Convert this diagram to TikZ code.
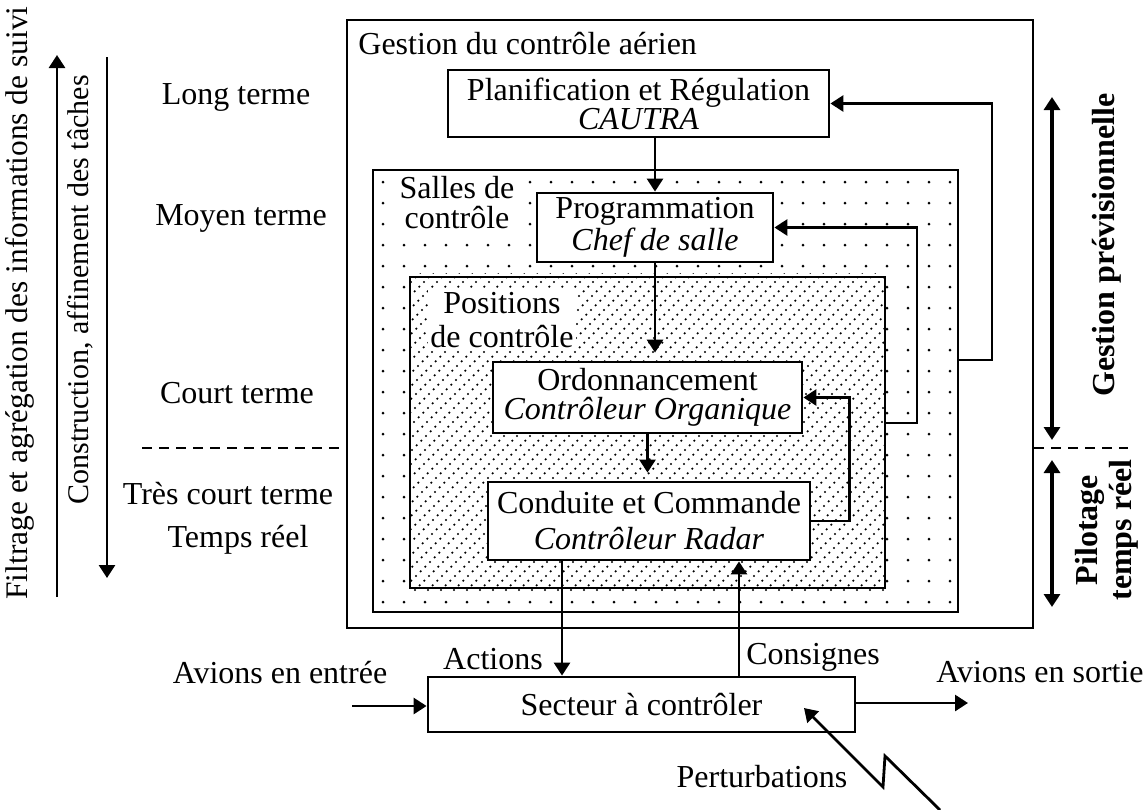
\documentclass[tikz,border=0pt]{standalone}
\usepackage{fontspec}
\setmainfont{Liberation Serif}
\usetikzlibrary{arrows.meta, positioning, fit}
\tikzset{
  box/.style={draw, line width=1.4pt, fill=white, align=center, inner sep=1pt,
    font=\fontsize{16}{14.5}\selectfont},
  region/.style={draw, line width=1.4pt, inner sep=0pt},
  arrow/.style={-{Triangle[length=6.5pt,width=8pt]}, line width=1.4pt},
  darrow/.style={{Triangle[length=6.5pt,width=8pt]}-{Triangle[length=6.5pt,width=8pt]}, line width=1.6pt},
  sep/.style={line width=1.2pt, dash pattern=on 5pt off 3.5pt},
  lbl/.style={font=\fontsize{16}{18}\selectfont, inner sep=1pt},
  tag/.style={lbl, fill=white, align=center},
  gridrow/.style={line width=1.5pt, line cap=round, dash pattern=on 0pt off 10.5pt},
  hatchrow/.style={line width=1.2pt, line cap=round, dash pattern=on 0pt off 3.3pt},
}
\begin{document}
\begin{tikzpicture}[x=0.5pt, y=-0.5pt]
  \useasboundingbox (0,0) rectangle (1148,810);

  % Nested zones
  \node[region, line width=1pt, fit={(347,20) (1033,628)}] (gestion) {};
  \node[region, fit={(373,170) (958,612)}] (salles) {};
  \begin{scope}
    \clip (salles.north west) rectangle (salles.south east);
    \foreach \y in {182,203,...,612}
      \draw[gridrow] (383,\y) -- (958,\y);
  \end{scope}
  \node[region, fill=white, fit={(410,277) (885,588)}] (positions) {};
  \begin{scope}
    \clip ([shift={(2,-2)}]positions.north west) rectangle ([shift={(-2,2)}]positions.south east);
    \foreach \k in {0,...,62}
      \draw[hatchrow] ({90+13*\k},590) -- ++(322,-322);
  \end{scope}

  % Zone titles
  \node[lbl, anchor=west] (tgestion) at (356,44) {Gestion du contrôle aérien};
  \node[tag, font=\fontsize{16}{15}\selectfont] (tsalles) at (457,203) {Salles de\\contrôle};
  \node[tag, font=\fontsize{16}{17}\selectfont] (tpositions) at (502,320) {Positions\\de contrôle};

  % Decision levels
  \node[box, minimum width=190.5pt, minimum height=33.5pt] (plan) at (638.5,103.5)
    {Planification et Régulation\\\textit{CAUTRA}};
  \node[box, minimum width=118pt, minimum height=34.5pt] (prog) at (655,227.5)
    {Programmation\\\textit{Chef de salle}};
  \node[box, minimum width=154.5pt, minimum height=35.5pt] (ordo) at (647.5,397.5)
    {Ordonnancement\\\textit{Contrôleur Organique}};
  \node[box, minimum width=161pt, minimum height=39pt, font=\fontsize{16}{18}\selectfont]
    (conduite) at (649,521) {Conduite et Commande\\\textit{Contrôleur Radar}};
  \node[box, minimum width=213.5pt, minimum height=27.5pt] (secteur) at (641.5,704.5)
    {Secteur à contrôler};

  % Top-down chain
  \draw[arrow] (prog.north |- plan.south) -- (prog.north);
  \draw[arrow, shorten >=4pt] (prog.south) -- (prog.south |- ordo.north);
  \draw[arrow, shorten >=4pt] (ordo.south) -- (ordo.south |- conduite.north);

  % Feedback loops
  \draw[arrow] (conduite.east) -- ++(38,0) |- (ordo.east);
  \draw[arrow] (positions.east |- 0,423) -- (917,423) |- (prog.east);
  \draw[arrow] (salles.east |- 0,360) -- (992,360) |- (plan.east);

  % Sector loop
  \draw[arrow] (conduite.south -| 562,0) -- (secteur.north -| 562,0);
  \draw[arrow] (secteur.north -| 739,0) -- (conduite.south -| 739,0);
  \node[lbl] (actions) at (493,659) {Actions};
  \node[lbl, anchor=west] (consignes) at (744,657) {Consignes};

  \coordinate (entree) at (352,706);
  \coordinate (sortie) at (968,703);
  \draw[arrow] (entree) -- (secteur.west |- entree);
  \draw[arrow] (secteur.east |- sortie) -- (sortie);
  \node[lbl] (tentree) at (280,673) {Avions en entrée};
  \node[lbl] (tsortie) at (1040,672) {Avions en sortie};

  \coordinate (pfar) at (940,810);
  \coordinate (ptip) at (804,708);
  \draw[arrow] (pfar) -- ++(-55,-54) -- ++(-2,31) -- (ptip);
  \node[lbl] (perturb) at (762,777) {Perturbations};

  % Time horizons
  \node[lbl] (long) at (236,97) {Long terme};
  \node[lbl] (moyen) at (241,218) {Moyen terme};
  \node[lbl] (court) at (237,393) {Court terme};
  \node[lbl] (trescourt) at (228,494) {Très court terme};
  \node[lbl] (reel) at (238,540) {Temps réel};
  \coordinate (sepl) at (142,448);
  \coordinate (sepr) at (1128,448);
  \draw[sep] (sepl) -- (gestion.west |- sepl);
  \draw[sep] (gestion.east |- sepr) -- (sepr);

  % Left axis
  \node[lbl, font=\fontsize{15.7}{18}\selectfont, rotate=90] (filtrage) at (20,303)
    {Filtrage et agrégation des informations de suivi};
  \coordinate (f0) at (57,597);
  \coordinate (f1) at (57,55);
  \draw[arrow] (f0) -- (f1);
  \node[lbl, font=\fontsize{15}{18}\selectfont, rotate=90] (constr) at (80,290)
    {Construction, affinement des tâches};
  \coordinate (c0) at (107,57);
  \coordinate (c1) at (107,578);
  \draw[arrow] (c0) -- (c1);

  % Right axis
  \coordinate (g0) at (1052,97);
  \coordinate (g1) at (1052,440);
  \coordinate (p0) at (1052,460);
  \coordinate (p1) at (1052,607);
  \draw[darrow] (g0) -- (g1);
  \draw[darrow] (p0) -- (p1);
  \node[lbl, font=\fontsize{16}{18}\selectfont\bfseries, rotate=90] (prev) at (1107,245)
    {Gestion prévisionnelle};
  \node[lbl, font=\fontsize{16}{17}\selectfont\bfseries, rotate=90, align=center] (pilot)
    at (1107,530) {Pilotage\\temps réel};
\end{tikzpicture}
\end{document}
